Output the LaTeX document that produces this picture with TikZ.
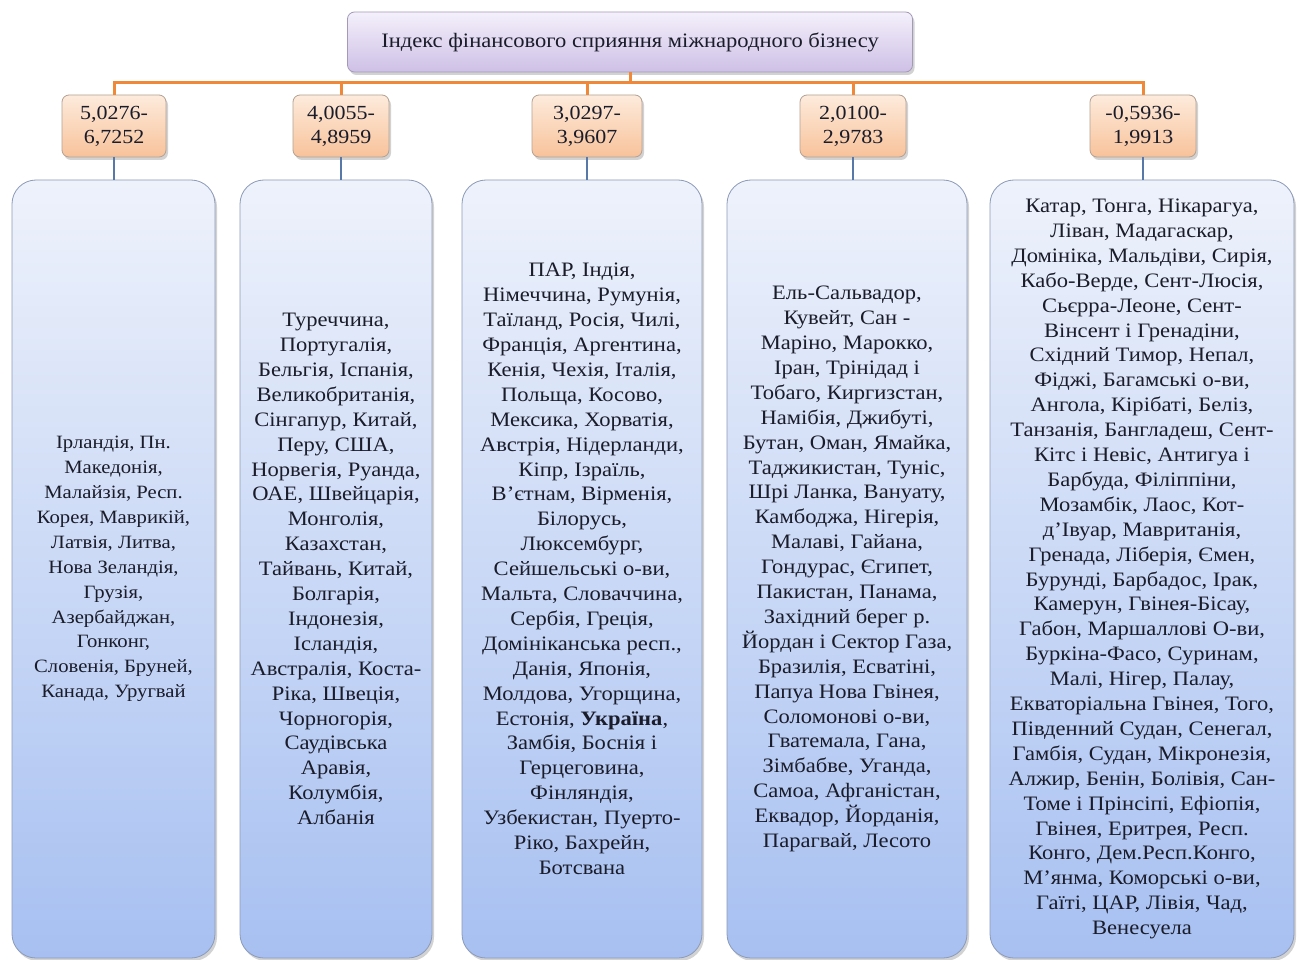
\documentclass[tikz,border=0pt]{standalone}
\usepackage{fontspec}
\setmainfont[FakeStretch=1.1]{Liberation Serif}
\usetikzlibrary{shadows}
\definecolor{ttlTop}{HTML}{F4F0FB}
\definecolor{ttlBot}{HTML}{CEC0E6}
\definecolor{ttlBorder}{HTML}{A49AB8}
\definecolor{rngTop}{HTML}{FDEBDC}
\definecolor{rngBot}{HTML}{F8C29A}
\definecolor{rngBorder}{HTML}{B3A293}
\definecolor{colTop}{HTML}{EEF2FB}
\definecolor{colBot}{HTML}{A7C0F1}
\definecolor{colBorder}{HTML}{8C9AB8}
\definecolor{orangeLn}{HTML}{F0883A}
\definecolor{blueLn}{HTML}{5878A8}
\definecolor{txt}{HTML}{1A1C2A}
\begin{document}
\begin{tikzpicture}[x=1pt,y=-1pt,
  shd/.style={drop shadow={shadow xshift=2pt,shadow yshift=-3pt,opacity=0.25,fill=black!70}},
  titlebox/.style={shd,draw=ttlBorder,line width=0.8pt,rounded corners=7pt,top color=ttlTop,bottom color=ttlBot,
     minimum width=565pt,minimum height=60pt,inner sep=0pt,text=txt,font=\fontsize{20.5}{22}\selectfont},
  rangebox/.style={shd,draw=rngBorder,line width=0.8pt,rounded corners=7pt,top color=rngTop,bottom color=rngBot,
     minimum width=104pt,minimum height=62pt,inner sep=0pt,align=center,text=txt,font=\fontsize{20}{24}\selectfont},
  colbox/.style={shd,draw=colBorder,line width=0.8pt,rounded corners=24pt,top color=colTop,bottom color=colBot,
     minimum height=778pt,inner sep=0pt,align=center,text=txt,font=\fontsize{20.5}{24.9}\selectfont},
  orangeline/.style={draw=orangeLn,line width=3pt},
  blueline/.style={draw=blueLn,line width=1.6pt}]
\useasboundingbox (0,0) rectangle (1298,960);
\fill[white] (0,0) rectangle (1298,960);

\node[titlebox] (title) at (630,42) {Індекс фінансового сприяння міжнародного бізнесу};

\node[rangebox] (r1) at (114,126) {5,0276-\\6,7252};
\node[rangebox,minimum width=96pt] (r2) at (341,126) {4,0055-\\4,8959};
\node[rangebox,minimum width=110pt] (r3) at (587,126) {3,0297-\\3,9607};
\node[rangebox,minimum width=106pt] (r4) at (853,126) {2,0100-\\2,9783};
\node[rangebox,minimum width=106pt] (r5) at (1143,126) {-0,5936-\\1,9913};

\node[colbox,minimum width=203pt,font=\fontsize{18.8}{24.9}\selectfont] (c1) at (113.5,569) {Ірландія, Пн.\\Македонія,\\Малайзія, Респ.\\Корея, Маврикій,\\Латвія, Литва,\\Нова Зеландія,\\Грузія,\\Азербайджан,\\Гонконг,\\Словенія, Бруней,\\Канада, Уругвай};
\node[colbox,minimum width=192pt] (c2) at (336,569) {Туреччина,\\Португалія,\\Бельгія, Іспанія,\\Великобританія,\\Сінгапур, Китай,\\Перу, США,\\Норвегія, Руанда,\\ОАЕ, Швейцарія,\\Монголія,\\Казахстан,\\Тайвань, Китай,\\Болгарія,\\Індонезія,\\Ісландія,\\Австралія, Коста-\\Ріка, Швеція,\\Чорногорія,\\Саудівська\\Аравія,\\Колумбія,\\Албанія};
\node[colbox,minimum width=240pt] (c3) at (582,569) {ПАР, Індія,\\Німеччина, Румунія,\\Таїланд, Росія, Чилі,\\Франція, Аргентина,\\Кенія, Чехія, Італія,\\Польща, Косово,\\Мексика, Хорватія,\\Австрія, Нідерланди,\\Кіпр, Ізраїль,\\В'єтнам, Вірменія,\\Білорусь,\\Люксембург,\\Сейшельські о-ви,\\Мальта, Словаччина,\\Сербія, Греція,\\Домініканська респ.,\\Данія, Японія,\\Молдова, Угорщина,\\Естонія, \textbf{Україна},\\Замбія, Боснія і\\Герцеговина,\\Фінляндія,\\Узбекистан, Пуерто-\\Ріко, Бахрейн,\\Ботсвана};
\node[colbox,minimum width=240pt] (c4) at (847,569) {Ель-Сальвадор,\\Кувейт, Сан -\\Маріно, Марокко,\\Іран, Трінідад і\\Тобаго, Киргизстан,\\Намібія, Джибуті,\\Бутан, Оман, Ямайка,\\Таджикистан, Туніс,\\Шрі Ланка, Вануату,\\Камбоджа, Нігерія,\\Малаві, Гайана,\\Гондурас, Єгипет,\\Пакистан, Панама,\\Західний берег р.\\Йордан і Сектор Газа,\\Бразилія, Есватіні,\\Папуа Нова Гвінея,\\Соломонові о-ви,\\Гватемала, Гана,\\Зімбабве, Уганда,\\Самоа, Афганістан,\\Еквадор, Йорданія,\\Парагвай, Лесото};
\node[colbox,minimum width=304pt] (c5) at (1142,569) {Катар, Тонга, Нікарагуа,\\Ліван, Мадагаскар,\\Домініка, Мальдіви, Сирія,\\Кабо-Верде, Сент-Люсія,\\Сьєрра-Леоне, Сент-\\Вінсент і Гренадіни,\\Східний Тимор, Непал,\\Фіджі, Багамські о-ви,\\Ангола, Кірібаті, Беліз,\\Танзанія, Бангладеш, Сент-\\Кітс і Невіс, Антигуа і\\Барбуда, Філіппіни,\\Мозамбік, Лаос, Кот-\\д'Івуар, Мавританія,\\Гренада, Ліберія, Ємен,\\Бурунді, Барбадос, Ірак,\\Камерун, Гвінея-Бісау,\\Габон, Маршаллові О-ви,\\Буркіна-Фасо, Суринам,\\Малі, Нігер, Палау,\\Екваторіальна Гвінея, Того,\\Південний Судан, Сенегал,\\Гамбія, Судан, Мікронезія,\\Алжир, Бенін, Болівія, Сан-\\Томе і Прінсіпі, Ефіопія,\\Гвінея, Еритрея, Респ.\\Конго, Дем.Респ.Конго,\\М'янма, Коморські о-ви,\\Гаїті, ЦАР, Лівія, Чад,\\Венесуела};

\coordinate (bus) at (0,83);
\draw[orangeline] (title.south) -- (title.south |- bus);
\draw[orangeline] (r1.north) -- (r1.north |- bus) -- (r5.north |- bus) -- (r5.north);
\foreach \k in {2,3,4} \draw[orangeline] (r\k.north) -- (r\k.north |- bus);
\foreach \k in {1,...,5} \draw[blueline] (r\k.south) -- (r\k.south |- c\k.north);
\end{tikzpicture}
\end{document}
